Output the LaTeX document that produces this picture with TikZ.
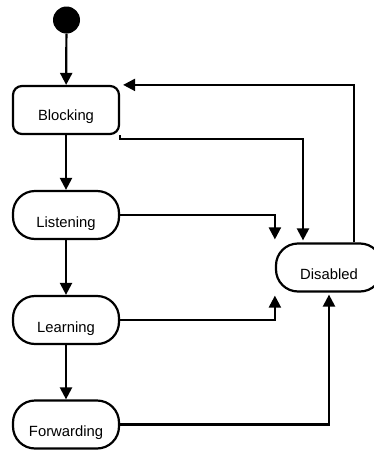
\documentclass[tikz,border=0pt]{standalone}
\usepackage{fontspec}
\setmainfont{Liberation Sans}
\usetikzlibrary{arrows.meta,calc}
\begin{document}
\begin{tikzpicture}[x=1pt,y=-1pt,
  state/.style={draw, line width=2.2pt, minimum width=106pt, minimum height=48pt,
    inner sep=0pt, font=\fontsize{14.8}{17}\selectfont,
    text height=24pt, text depth=0pt, rounded corners=22pt},
  startdot/.style={circle, fill=black, minimum size=27pt, inner sep=0pt},
  flow/.style={line width=2.2pt, -{Triangle[length=12pt,width=12pt]}}
]
\useasboundingbox (0,0) rectangle (374,453);
\clip (0,0) rectangle (374,453);

% states
\node[startdot] (init) at (66.5,20) {};
\node[state, rounded corners=9pt, text height=21pt] (blk) at (66,110) {Blocking};
\node[state] (lis) at (66,215) {Listening};
\node[state] (lea) at (66,320) {Learning};
\node[state] (fwd) at (66,424.5) {Forwarding};
\node[state] (dis) at (329,267.5) {Disabled};

% main chain
\draw[flow] (init) -- (blk);
\draw[flow] (blk) -- (lis);
\draw[flow] (lis) -- (lea);
\draw[flow] (lea) -- (fwd);

% transitions into and out of Disabled
\draw[flow] (blk.south east) -- ++(0,4) -| ($(dis.north)+(-26,-2)$);
\draw[flow] ($(dis.north)+(25,0)$) |- ($(blk.north east)+(3,0)$);
\draw[flow] (lis.east) -| ($(dis.north west)+(0,-3)$);
\draw[flow] (lea.east) -| ($(dis.south west)+(0,3)$);
\draw[flow] (fwd.east) -| ($(dis.south)+(0,2)$);
\end{tikzpicture}
\end{document}
